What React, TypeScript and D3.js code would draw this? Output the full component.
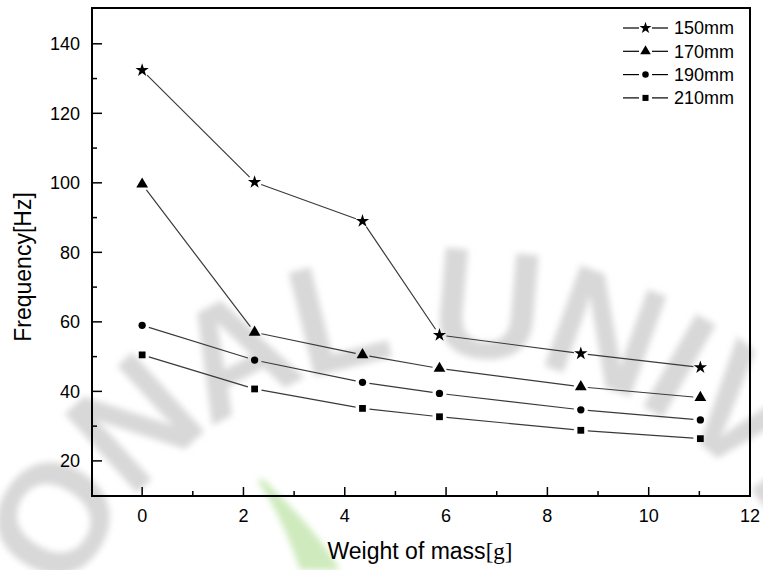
import React from "react";
import * as d3 from "d3";

// masses [g]
const masses = [0, 2.22, 4.35, 5.87, 8.66, 11.02];
const f150 = [132.4, 100.2, 89.0, 56.2, 50.9, 46.9];
const f170 = [99.6, 57.0, 50.5, 46.6, 41.3, 38.2];
const f190 = [59.0, 49.0, 42.6, 39.4, 34.7, 31.8];
const f210 = [50.5, 40.7, 35.1, 32.7, 28.8, 26.4];
const seriesNames = ["150mm", "170mm", "190mm", "210mm"];
const xTicks = [0, 2, 4, 6, 8, 10, 12];
const yTicks = [20, 40, 60, 80, 100, 120, 140];

const W = 763;
const H = 570;
const margin = { top: 8, right: 13, bottom: 74, left: 92 };

const symbols = [d3.symbolStar, d3.symbolTriangle, d3.symbolCircle, d3.symbolSquare];
const symSizes = [55, 60, 42, 46];

const App = () => {
  const innerW = W - margin.left - margin.right;
  const innerH = H - margin.top - margin.bottom;

  const x = d3.scaleLinear().domain([-0.99, 12]).range([margin.left, margin.left + innerW]);
  const y = d3.scaleLinear().domain([9.9, 150.3]).range([margin.top + innerH, margin.top]);

  const series = [f150, f170, f190, f210];
  const gap = 7;

  // line pieces stop short of the markers, Origin style
  const segs = (vals: number[]) => {
    const out: string[] = [];
    for (let i = 0; i < vals.length - 1; i++) {
      const x1 = x(masses[i]), y1 = y(vals[i]);
      const x2 = x(masses[i + 1]), y2 = y(vals[i + 1]);
      const len = Math.hypot(x2 - x1, y2 - y1);
      const ux = (x2 - x1) / len, uy = (y2 - y1) / len;
      out.push(`M${x1 + ux * gap},${y1 + uy * gap}L${x2 - ux * gap},${y2 - uy * gap}`);
    }
    return out.join("");
  };

  const font = "'Liberation Sans', Arial, sans-serif";
  const serif = "'Liberation Serif', 'Times New Roman', serif";

  const xMinor = d3.range(1, 12, 2);
  const yMinor = d3.range(30, 150, 20);

  return (
    <svg width={W} height={H} style={{ position: "absolute", left: 0, top: 0, background: "#fff" }}>
      <defs>
        <filter id="blur" x="-20%" y="-20%" width="140%" height="140%">
          <feGaussianBlur stdDeviation="3" />
        </filter>
        {/* watermark arc: centre (446,767), r 411 */}
        <path id="arc" d="M 131.2,1031.3 A 411,411 0 1 1 760.8,1031.3" />
      </defs>

      {/* faint watermark */}
      <g filter="url(#blur)">
        <path d="M262,478 C285,500 320,535 340,570 L300,570 C290,540 275,505 258,482 Z" fill="#cfeabd" />
        <text fontFamily={font} fontWeight="bold" fontSize={155} letterSpacing={-5} fill="#d8d8d8">
          <textPath href="#arc" startOffset={129}>NATIONAL UNIVERSITY</textPath>
        </text>
      </g>

      {/* frame */}
      <rect x={margin.left} y={margin.top} width={innerW} height={innerH} fill="none" stroke="#000" strokeWidth={2} />

      {/* x ticks */}
      {xTicks.map((t) => (
        <g key={"xt" + t}>
          {t < 12 && <line x1={x(t)} x2={x(t)} y1={margin.top + innerH} y2={margin.top + innerH - 9} stroke="#000" strokeWidth={1.5} />}
          <text x={x(t)} y={margin.top + innerH + 26} textAnchor="middle" fontFamily={font} fontSize={18}>{t}</text>
        </g>
      ))}
      {xMinor.map((t) => (
        <line key={"xm" + t} x1={x(t)} x2={x(t)} y1={margin.top + innerH} y2={margin.top + innerH - 5} stroke="#000" strokeWidth={1.5} />
      ))}

      {/* y ticks */}
      {yTicks.map((t) => (
        <g key={"yt" + t}>
          <line x1={margin.left} x2={margin.left + 10} y1={y(t)} y2={y(t)} stroke="#000" strokeWidth={1.5} />
          <text x={margin.left - 12} y={y(t)} dy="0.35em" textAnchor="end" fontFamily={font} fontSize={18}>{t}</text>
        </g>
      ))}
      {yMinor.map((t) => (
        <line key={"ym" + t} x1={margin.left} x2={margin.left + 5} y1={y(t)} y2={y(t)} stroke="#000" strokeWidth={1.5} />
      ))}

      {/* axis titles */}
      <text x={420} y={559} textAnchor="middle" fontFamily={font} fontSize={23}>
        Weight of mass<tspan fontFamily={serif}>[g]</tspan>
      </text>
      <text transform="translate(31,267) rotate(-90)" textAnchor="middle" fontFamily={font} fontSize={23}>
        Frequency[Hz]
      </text>

      {/* data */}
      {series.map((vals, si) => (
        <g key={"s" + si}>
          <path d={segs(vals)} fill="none" stroke="#3a3a3a" strokeWidth={1.2} />
          {vals.map((v, i) => (
            <path key={i} transform={`translate(${x(masses[i])},${y(v)})`} d={d3.symbol(symbols[si], symSizes[si])() || ""} fill="#000" />
          ))}
        </g>
      ))}

      {/* legend */}
      {seriesNames.map((name, i) => {
        const ly = 28 + i * 23.3;
        return (
          <g key={"lg" + i}>
            <line x1={623} x2={639} y1={ly} y2={ly} stroke="#000" strokeWidth={1.2} />
            <line x1={652} x2={668} y1={ly} y2={ly} stroke="#000" strokeWidth={1.2} />
            <path transform={`translate(645.5,${ly})`} d={d3.symbol(symbols[i], symSizes[i] * 0.8)() || ""} fill="#000" />
            <text x={674} y={ly} dy="0.35em" fontFamily={font} fontSize={18}>{name}</text>
          </g>
        );
      })}
    </svg>
  );
};

export default App;
